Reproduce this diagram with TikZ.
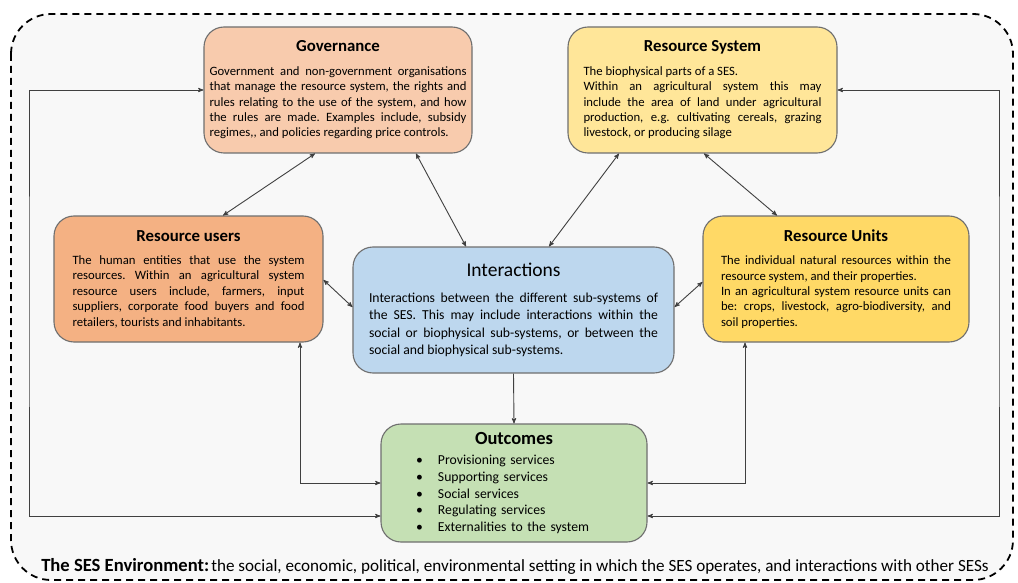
\documentclass[tikz,border=0pt]{standalone}
\usepackage{fontspec}
\setmainfont{Carlito}
\usetikzlibrary{arrows,positioning}
\frenchspacing
\setlength{\parindent}{0pt}
\definecolor{govfill}{HTML}{F8CBAD}
\definecolor{sysfill}{HTML}{FFE699}
\definecolor{userfill}{HTML}{F4B183}
\definecolor{unitfill}{HTML}{FFD966}
\definecolor{interfill}{HTML}{BDD7EE}
\definecolor{outfill}{HTML}{C5E0B4}
\definecolor{boxline}{HTML}{6F6F6F}
\definecolor{envfill}{HTML}{F8F8F8}
\newcommand{\boxhead}[2][16.8]{\centerline{\fontsize{#1}{#1}\selectfont\bfseries #2}\par}

\begin{document}
\begin{tikzpicture}[<->,>=stealth',x=1pt,y=-1pt,line width=0.9pt,draw=black!75,
            subsys/.style={draw=boxline,line width=1.1pt,rounded corners=20pt,inner sep=0pt,
                minimum height=126pt,align=justify,font={\fontsize{12.7}{15.4}\selectfont}}]
            \path[use as bounding box,fill=white] (0,0) rectangle (1018,583);
            \draw[-,line width=1.8pt,draw=black,dash pattern=on 7pt off 5pt,rounded corners=40pt,
                fill=envfill] (11,14) rectangle (1013,580);

            \node[subsys,fill=govfill,minimum width=268pt,text width=257pt] (gov) at (338,90)
                {\boxhead{Governance}\vspace{8pt}%
                Government and non-government organisations\linebreak
                that manage the resource system, the rights and\linebreak
                rules relating to the use of the system, and how\linebreak
                the rules are made. Examples include, subsidy\linebreak
                regimes,{}, and policies regarding price controls.};
            \node[subsys,fill=sysfill,minimum width=269pt,text width=238pt] (sys) at (702.5,90)
                {\boxhead{Resource System}\vspace{8pt}%
                The biophysical parts of a SES.\par
                Within an agricultural system this may\linebreak
                include the area of land under agricultural\linebreak
                production, e.g. cultivating cereals, grazing\linebreak
                livestock, or producing silage};
            \node[subsys,fill=userfill,minimum width=269pt,text width=232pt] (users) at (188.5,279)
                {\boxhead{Resource users}\vspace{8pt}%
                The human entities that use the system\linebreak
                resources. Within an agricultural system\linebreak
                resource users include, farmers, input\linebreak
                suppliers, corporate food buyers and food\linebreak
                retailers, tourists and inhabitants.};
            \node[subsys,fill=unitfill,minimum width=266pt,text width=230pt] (units) at (836,279)
                {\boxhead{Resource Units}\vspace{8pt}%
                The individual natural resources within the\linebreak
                resource system, and their properties.\par
                In an agricultural system resource units can\linebreak
                be: crops, livestock, agro-biodiversity, and\linebreak
                soil properties.};
            \node[subsys,fill=interfill,minimum width=321pt,text width=289pt,
                font={\fontsize{13.7}{17.3}\selectfont}] (inter) at (513.5,310)
                {\centerline{\fontsize{19.5}{19.5}\selectfont Interactions}\par\vspace{8.7pt}%
                Interactions between the different sub-systems of\linebreak
                the SES. This may include interactions within the\linebreak
                social or biophysical sub-systems, or between the\linebreak
                social and biophysical sub-systems.\par\vspace{4pt}};
            \node[subsys,fill=outfill,minimum width=266pt,minimum height=118pt,text width=196pt,
                align=left,font={\fontsize{13.7}{16.7}\selectfont}] (out) at (514,483)
                {\boxhead[18.5]{Outcomes}\vspace{3.7pt}%
                \makebox[22pt][l]{\textbullet}Provisioning services\par
                \makebox[22pt][l]{\textbullet}Supporting services\par
                \makebox[22pt][l]{\textbullet}Social services\par
                \makebox[22pt][l]{\textbullet}Regulating services\par
                \makebox[22pt][l]{\textbullet}Externalities to the system};
            \node[anchor=base,inner sep=0pt] (env) at (515,571)
                {{\fontsize{18.6}{20}\selectfont\bfseries The SES Environment:}
                \fontsize{17.1}{20}\selectfont the social, economic, political, environmental setting
                in which the SES operates, and interactions with other SESs};

            \coordinate (loopl) at (29,300);
            \coordinate (loopr) at (999,300);

            \path   ([xshift=-23pt]gov.south)   edge node {}    ([xshift=34.5pt]users.north)
                    ([xshift=78pt]gov.south)    edge node {}    ([xshift=-47.5pt]inter.north)
                    ([xshift=-83.5pt]sys.south) edge node {}    ([xshift=35.5pt]inter.north)
                    ([xshift=1.5pt]sys.south)   edge node {}    ([xshift=-59pt]units.north)
                    ([yshift=-1pt]users.east)   edge node {}    ([yshift=3pt]inter.west)
                    ([yshift=-3pt]units.west)   edge node {}    ([yshift=3pt]inter.east)
                    (inter.south)               edge[->] node {} (out.north);
            \draw ([xshift=111.5pt]users.south) |- (out.west);
            \draw ([xshift=-91pt]units.south) |- (out.east);
            \draw ([yshift=-33pt]out.west) -| (loopl) |- (gov.west);
            \draw ([yshift=-33pt]out.east) -| (loopr) |- (sys.east);
        \end{tikzpicture}
\end{document}
